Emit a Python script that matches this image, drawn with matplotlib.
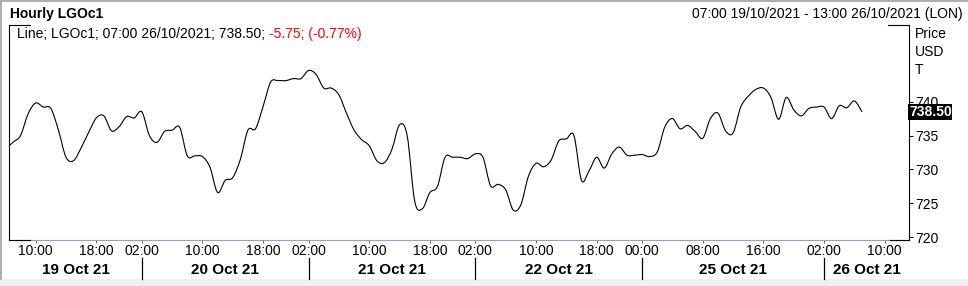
import numpy as np
import matplotlib.pyplot as plt
from matplotlib import transforms
from matplotlib.lines import Line2D
from matplotlib.patches import Rectangle, PathPatch
from matplotlib.path import Path

plt.rcParams['font.family'] = ['Liberation Sans', 'DejaVu Sans']

W, H = 968, 286

# trading sessions shown on the axis (weekend skipped)
session_days = ["19 Oct 21", "20 Oct 21", "21 Oct 21", "22 Oct 21", "25 Oct 21", "26 Oct 21"]
first_hour = [6, 2, 2, 2, 0, 2]
last_hour = [23, 23, 23, 23, 23, 13]

# hourly LGOc1 closes, from 06:00 19 Oct to 07:00 26 Oct
price = [
    733.0, 734.0, 735.0, 738.2, 739.8, 739.2, 739.0, 735.8, 731.8, 731.3,
    733.2, 735.5, 737.6, 737.9, 735.7, 736.3, 737.8, 737.6, 738.5, 735.0,
    734.0, 735.6, 735.8, 736.2, 732.0, 732.0, 731.9, 730.3, 726.6, 728.4,
    728.8, 731.5, 735.8, 736.0, 739.3, 742.9, 743.1, 743.1, 743.4, 743.4,
    744.6, 744.0, 742.0, 742.0, 741.0, 738.3, 735.8, 734.4, 733.5, 731.3,
    731.0, 733.0, 736.6, 735.0, 725.3, 724.2, 726.6, 727.5, 731.8, 731.8,
    731.8, 731.6, 732.3, 731.8, 727.6, 727.8, 727.0, 724.0, 724.8, 729.0,
    730.9, 730.4, 731.4, 734.2, 734.5, 735.0, 728.4, 729.8, 731.8, 730.2,
    732.3, 733.3, 732.1, 732.1, 732.2, 731.9, 732.6, 736.3, 737.5, 736.0,
    736.5, 735.6, 734.6, 737.5, 738.3, 735.7, 735.4, 739.2, 740.8, 741.8,
    742.0, 740.6, 737.4, 740.6, 738.8, 737.9, 739.0, 739.2, 739.2, 737.5,
    739.4, 739.1, 740.1, 738.5,
]

time_ticks = [
    ("19 Oct 21", 10), ("19 Oct 21", 18),
    ("20 Oct 21", 2), ("20 Oct 21", 10), ("20 Oct 21", 18),
    ("21 Oct 21", 2), ("21 Oct 21", 10), ("21 Oct 21", 18),
    ("22 Oct 21", 2), ("22 Oct 21", 10), ("22 Oct 21", 18),
    ("25 Oct 21", 0), ("25 Oct 21", 8), ("25 Oct 21", 16),
    ("26 Oct 21", 2), ("26 Oct 21", 10),
]
price_ticks = [720, 725, 730, 735, 740]
last_price = 738.50

bars = [(d, h) for d, h0, h1 in zip(session_days, first_hour, last_hour)
        for h in range(h0, h1 + 1)]


def fx(px):
    return px / W


def fy(py):
    return 1 - py / H


def smooth_path(x, y):
    # Catmull-Rom style bezier through every point, like the terminal's smoothed line
    p = np.column_stack([x, y]).astype(float)
    ext = np.vstack([p[0], p, p[-1]])
    verts = [p[0]]
    codes = [Path.MOVETO]
    for i in range(len(p) - 1):
        p0, p1, p2, p3 = ext[i], ext[i + 1], ext[i + 2], ext[i + 3]
        verts += [p1 + (p2 - p0) / 6, p2 - (p3 - p1) / 6, p2]
        codes += [Path.CURVE4] * 3
    return Path(verts, codes)


fig = plt.figure(figsize=(W / 100, H / 100), dpi=100)
fig.patch.set_facecolor('white')

ax = fig.add_axes([fx(9.3), fy(240), fx(909) - fx(9.3), (240 - 25) / H])
ax.add_patch(PathPatch(smooth_path(np.arange(len(price)), price),
                       fc='none', ec='black', lw=0.8))
ax.set_xlim(0.52, 119.2)
ax.set_ylim(719.6, 751.3)

ax.spines['top'].set_visible(False)
ax.spines['bottom'].set_color('#a0a0b0')
ax.spines['left'].set_linewidth(0.8)
ax.spines['right'].set_linewidth(0.8)

tick_pos = [bars.index(t) for t in time_ticks]
ax.set_xticks(tick_pos)
ax.set_xticklabels([f"{h:02d}:00" for _, h in time_ticks])
ax.tick_params(axis='x', length=2.2, width=0.7, color='#606060', pad=1.0, labelsize=10)

ax.yaxis.tick_right()
ax.set_yticks(price_ticks)
ax.tick_params(axis='y', length=3, width=0.7, pad=1.5, labelsize=10)

# black corners of the frame
for x0, x1, y in [(9.3, 30, 25), (888, 909, 25), (9.3, 30, 240), (890, 909, 240)]:
    fig.add_artist(Line2D([fx(x0), fx(x1)], [fy(y), fy(y)], color='black', lw=0.8))

# last price box
ax.text(1.0, last_price, f"{last_price:.2f}", transform=ax.get_yaxis_transform(),
        ha='left', va='center', fontsize=10, fontweight='bold', color='white',
        bbox=dict(boxstyle='square,pad=0.05', fc='black', ec='none'), clip_on=False)

# day separators and day labels
bt = transforms.blended_transform_factory(ax.transData, fig.transFigure)
starts = [bars.index((d, h)) for d, h in zip(session_days, first_hour)]
lo, hi = ax.get_xlim()
edges = [lo] + starts[1:] + [hi]
for s in starts[1:]:
    fig.add_artist(Line2D([s, s], [fy(258), fy(279)], transform=bt, color='black', lw=0.9))
for i, d in enumerate(session_days):
    fig.text((edges[i] + edges[i + 1]) / 2, fy(274.3), d, transform=bt,
             ha='center', va='baseline', fontsize=11, fontweight='bold')

# unit labels
for txt, y in [("Price", 37.5), ("USD", 56), ("T", 73.5)]:
    fig.text(fx(914.5), fy(y), txt, va='baseline', fontsize=10)

# header
fig.text(fx(10), fy(18.3), "Hourly LGOc1", fontsize=10, fontweight='bold', va='baseline')
fig.text(fx(963), fy(18.3), "07:00 19/10/2021 - 13:00 26/10/2021 (LON)",
         fontsize=10, ha='right', va='baseline')

t1 = fig.text(fx(17), fy(38.3), "Line; LGOc1; 07:00 26/10/2021; 738.50;",
              fontsize=10, va='baseline')
fig.canvas.draw()
bb = t1.get_window_extent()
fig.text((bb.x1 + 4) / W, fy(38.3), "-5.75; (-0.77%)", fontsize=10,
         va='baseline', color='#ff0000')

# window border and bottom strip
fig.add_artist(Rectangle((0, 0), 1, 7 / H, transform=fig.transFigure,
                         fc='#f0f0f0', ec='none'))
fig.add_artist(Line2D([fx(0.7), fx(0.7)], [fy(0), fy(279)], color='#a0a0a0', lw=1.2))
fig.add_artist(Line2D([0, 1], [fy(0.6), fy(0.6)], color='#a0a0a0', lw=1.2))

fig.savefig("out.png", dpi=100)
